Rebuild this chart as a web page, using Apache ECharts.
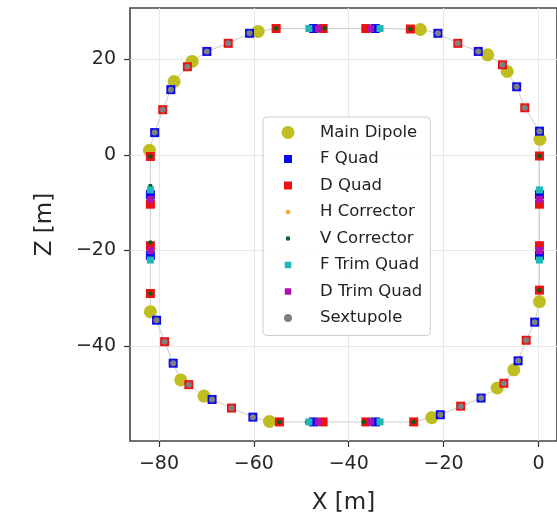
<!DOCTYPE html>
<html><head><meta charset="utf-8">
<script src="https://cdn.jsdelivr.net/npm/echarts@6/dist/echarts.min.js"></script>
<style>html,body{margin:0;padding:0;background:#fff}#c{width:557px;height:520px}</style>
</head><body><div id="c"></div>
<script>
// ---- data (X [m], Z [m]) ----
const seriesNames = ['Main Dipole','F Quad','D Quad','H Corrector','V Corrector','F Trim Quad','D Trim Quad','Sextupole'];

const mainDipole = [
  [-59.1, 25.9], [-73.0, 19.6], [-76.8, 15.4], [-82.0, 1.0],
  [-24.9, 26.3], [-10.7, 21.0], [-6.6, 17.5], [0.3, 3.3],
  [-81.8, -32.8], [-75.4, -47.1], [-70.5, -50.5], [-56.7, -55.8],
  [-22.5, -55.0], [-8.7, -48.8], [-5.2, -45.0], [0.2, -30.7]
];
const fQuad = [
  [-60.9, 25.5], [-69.9, 21.7], [-77.5, 13.7], [-80.9, 4.7],
  [-21.2, 25.5], [-12.7, 21.7], [-4.6, 14.3], [0.2, 5.0],
  [-80.5, -34.6], [-77.0, -43.6], [-68.8, -51.2], [-60.2, -54.9],
  [-20.7, -54.4], [-12.1, -50.9], [-4.3, -43.1], [-0.8, -35.0],
  [-47.4, 26.5], [-34.4, 26.5], [-47.4, -55.9], [-34.4, -55.9],
  [-81.8, -8.3], [-81.8, -21.0], [0.2, -8.3], [0.2, -21.0]
];
const dQuad = [
  [-55.3, 26.5], [-65.4, 23.4], [-74.0, 18.5], [-79.2, 9.5], [-81.8, -0.3],
  [-27.0, 26.4], [-17.0, 23.4], [-7.6, 18.9], [-2.9, 9.9], [0.2, -0.2],
  [-81.8, -29.0], [-78.8, -39.1], [-73.7, -48.1], [-64.7, -53.0], [-54.6, -55.9],
  [-26.3, -55.9], [-16.4, -52.6], [-7.3, -47.8], [-2.6, -38.8], [0.2, -28.3],
  [-45.4, 26.5], [-36.4, 26.5], [-45.4, -55.9], [-36.4, -55.9],
  [-81.8, -10.3], [-81.8, -19.0], [0.2, -10.3], [0.2, -19.0]
];
const hCorrector = [
  [-60.9, 25.5], [-69.9, 21.7], [-77.5, 13.7], [-80.9, 4.7],
  [-21.2, 25.5], [-12.7, 21.7], [-4.6, 14.3], [0.2, 5.0],
  [-80.5, -34.6], [-77.0, -43.6], [-68.8, -51.2], [-60.2, -54.9],
  [-20.7, -54.4], [-12.1, -50.9], [-4.3, -43.1], [-0.8, -35.0]
];
const vCorrector = [
  [-55.3, 26.5], [-27.0, 26.4], [-54.6, -55.9], [-26.3, -55.9],
  [-81.8, -0.3], [-81.8, -29.0], [0.2, -0.2], [0.2, -28.3],
  [-45.1, 26.5], [-48.8, -55.9], [-36.8, -55.9],
  [-81.8, -6.5], [-81.8, -18.3]
];
const fTrimQuad = [
  [-48.4, 26.5], [-33.4, 26.5], [-48.4, -55.9], [-33.4, -55.9],
  [-81.8, -7.3], [-81.8, -22.0], [0.2, -7.3], [0.2, -22.0]
];
const dTrimQuad = [
  [-46.4, 26.5], [-35.4, 26.5], [-46.4, -55.9], [-35.4, -55.9],
  [-81.8, -9.3], [-81.8, -20.0], [0.2, -9.3], [0.2, -20.0]
];
const sextupole = [
  [-60.9, 25.5], [-69.9, 21.7], [-77.5, 13.7], [-80.9, 4.7],
  [-21.2, 25.5], [-12.7, 21.7], [-4.6, 14.3], [0.2, 5.0],
  [-80.5, -34.6], [-77.0, -43.6], [-68.8, -51.2], [-60.2, -54.9],
  [-20.7, -54.4], [-12.1, -50.9], [-4.3, -43.1], [-0.8, -35.0],
  [-65.4, 23.4], [-74.0, 18.5], [-79.2, 9.5],
  [-17.0, 23.4], [-7.6, 18.9], [-2.9, 9.9],
  [-78.8, -39.1], [-73.7, -48.1], [-64.7, -53.0],
  [-16.4, -52.6], [-7.3, -47.8], [-2.6, -38.8]
];
const xTicks = [-80, -60, -40, -20, 0];
const zTicks = [-40, -20, 0, 20];

// ---- orbit line through all elements, ordered around the ring ----
const allPts = [].concat(mainDipole, fQuad, dQuad, fTrimQuad, dTrimQuad, vCorrector);
const xs = allPts.map(p => p[0]), zs = allPts.map(p => p[1]);
const cx = (Math.min(...xs) + Math.max(...xs)) / 2, cz = (Math.min(...zs) + Math.max(...zs)) / 2;
const orbit = allPts.slice().sort((a, b) => Math.atan2(a[1] - cz, a[0] - cx) - Math.atan2(b[1] - cz, b[0] - cx));
orbit.push(orbit[0]);

// ---- legend icons (marker sizes differ as in the reference) ----
const IW = 42, IH = 16, MC = 15;
function circIcon(r) {
  return `path://M0 0 M${IW} ${IH} M${MC - r} 8 A${r} ${r} 0 1 0 ${MC + r} 8 A${r} ${r} 0 1 0 ${MC - r} 8 Z`;
}
function sqIcon(s) {
  return `path://M0 0 M${IW} ${IH} M${MC - s / 2} ${8 - s / 2} h${s} v${s} h${-s} Z`;
}

const FONT = 'DejaVu Sans';
const minus = v => String(v).replace('-', '\u2212');

const sc = (name, data, symbol, size, color, z) => ({
  type: 'scatter', name, data, symbol, symbolSize: size, z,
  itemStyle: { color, opacity: 1 }, silent: true, animation: false
});

const option = {
  animation: false,
  backgroundColor: '#ffffff',
  grid: { left: 130, top: 8, width: 434, height: 435, show: true, borderColor: '#444', borderWidth: 1.6, backgroundColor: 'transparent' },
  xAxis: {
    type: 'value', min: -86.1, max: 3.9,
    name: 'X [m]', nameLocation: 'middle', nameGap: 51,
    nameTextStyle: { fontSize: 23, fontFamily: FONT, color: '#262626' },
    axisLine: { show: false, onZero: false },
    axisTick: { show: true, customValues: xTicks, length: 6, lineStyle: { color: '#333', width: 1.2 } },
    axisLabel: { customValues: xTicks, margin: 14, fontSize: 19, fontFamily: FONT, color: '#262626', formatter: minus },
    splitLine: { show: true, lineStyle: { color: '#e8e8e8', width: 1 } }
  },
  yAxis: {
    type: 'value', min: -59.9, max: 30.8,
    name: 'Z [m]', nameLocation: 'middle', nameGap: 73, nameRotate: 90,
    nameTextStyle: { fontSize: 23, fontFamily: FONT, color: '#262626' },
    axisLine: { show: false, onZero: false },
    axisTick: { show: true, customValues: zTicks, length: 6, lineStyle: { color: '#333', width: 1.2 } },
    axisLabel: { customValues: zTicks, margin: 14, fontSize: 19, fontFamily: FONT, color: '#262626', formatter: minus },
    splitLine: { show: true, lineStyle: { color: '#e8e8e8', width: 1 } }
  },
  legend: {
    orient: 'vertical', left: 263, top: 117,
    padding: [7, 8, 9, 10], itemGap: 9.5, itemWidth: IW, itemHeight: IH,
    backgroundColor: 'rgba(255,255,255,0.85)', borderColor: '#cccccc', borderWidth: 1, borderRadius: 4,
    selectedMode: false,
    textStyle: { fontSize: 16.5, fontFamily: FONT, color: '#222' },
    data: [
      { name: 'Main Dipole', icon: circIcon(6.5) },
      { name: 'F Quad', icon: sqIcon(8) },
      { name: 'D Quad', icon: sqIcon(8) },
      { name: 'H Corrector', icon: circIcon(2.2) },
      { name: 'V Corrector', icon: circIcon(2.2) },
      { name: 'F Trim Quad', icon: sqIcon(6.5) },
      { name: 'D Trim Quad', icon: sqIcon(6.5) },
      { name: 'Sextupole', icon: circIcon(4) }
    ]
  },
  series: [
    { type: 'line', name: 'orbit', data: orbit, symbol: 'none', silent: true, z: 1,
      lineStyle: { color: '#cccccc', width: 1 }, animation: false },
    sc(seriesNames[0], mainDipole, 'circle', 13, '#bfbd1f', 2),
    sc(seriesNames[1], fQuad, 'rect', 9, '#0a0aee', 3),
    sc(seriesNames[2], dQuad, 'rect', 9, '#ee1111', 4),
    sc(seriesNames[3], hCorrector, 'circle', 4.5, '#ff9f2a', 5),
    sc(seriesNames[4], vCorrector, 'circle', 4.5, '#0b5d1e', 6),
    sc(seriesNames[5], fTrimQuad, 'rect', 7, '#1fb8b8', 7),
    sc(seriesNames[6], dTrimQuad, 'rect', 7, '#b010b0', 8),
    sc(seriesNames[7], sextupole, 'circle', 6, '#808080', 9)
  ]
};
const chart = echarts.init(document.getElementById('c'), null, { renderer: 'canvas' });
chart.setOption(option);
</script></body></html>
